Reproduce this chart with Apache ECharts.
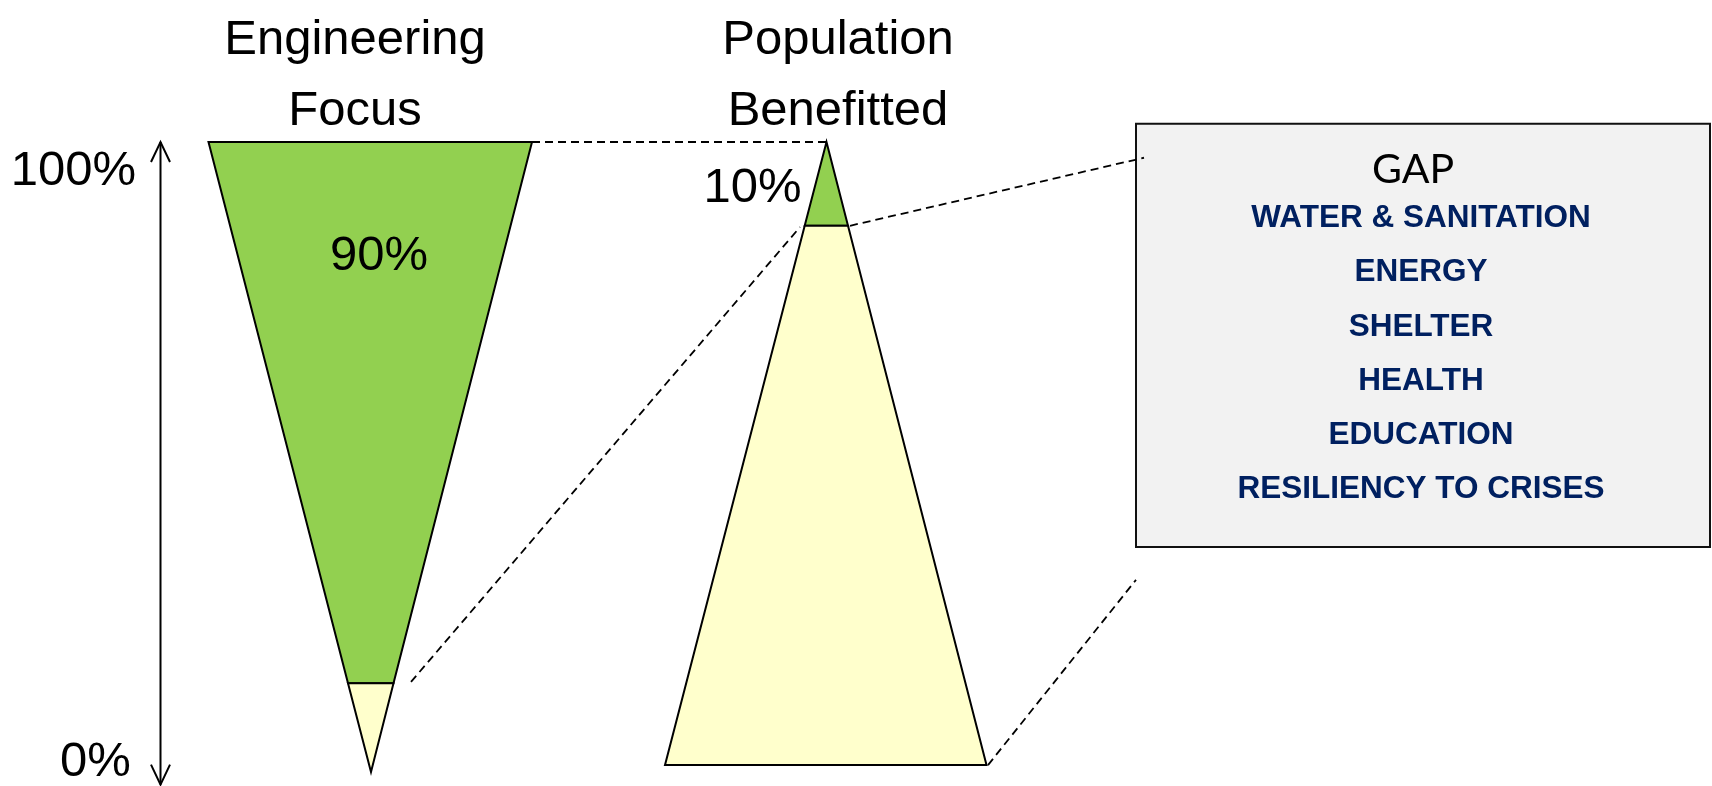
<!DOCTYPE html>
<html><head><meta charset="utf-8">
<script src="https://cdn.jsdelivr.net/npm/echarts@6/dist/echarts.min.js"></script>
<style>html,body{margin:0;padding:0;background:#fff}#c{width:1712px;height:786px}</style>
</head><body><div id="c"></div>
<script>
// ---- data (x: horizontal diagram units, y: percent of the 0%-100% scale) ----
const funnelTitles = ['Engineering\nFocus', 'Population\nBenefitted'];
const shareLabels = ['90%', '10%'];
const scaleLabels = ['100%', '0%'];
const gapTitle = 'GAP';
const gapItems = ['WATER & SANITATION', 'ENERGY', 'SHELTER', 'HEALTH', 'EDUCATION', 'RESILIENCY TO CRISES'];

// shape vertices
const engineeringGreen = [[208.5, 100], [532, 100], [393.5, 14.1], [348, 14.1]];
const engineeringYellow = [[348, 14.1], [393.5, 14.1], [371, 0]];
const populationGreen = [[826.5, 100], [848, 86.7], [804.7, 86.7]];
const populationYellow = [[804.7, 86.7], [848, 86.7], [986.5, 1.1], [665, 1.1]];
const connectors = [
  [[532, 100], [826.5, 100]],
  [[411, 14.3], [800, 86.5]],
  [[850, 86.7], [1144, 97.5]],
  [[988, 1.1], [1136, 30.5]]
];
const scaleArrow = [[160.5, 100], [160.5, -2.0]];
const gapBox = [[1136, 102.9], [1710, 35.7]];

// ---- layout / style ----
const GREEN = '#92D050', YELLOW = '#FFFFCC', NAVY = '#002060';
const shapes = [engineeringGreen, engineeringYellow, populationGreen, populationYellow];
const shapeFill = [GREEN, YELLOW, GREEN, YELLOW];
const titlePos = [[355, 110.5], [838, 110.5]];
const sharePos = [[379, 81.85], [752.5, 92.7]];
const scaleLabelPos = [[73.5, 95.35], [95.5, 1.55]];
const gapTitlePos = [1413, 95.65];
const gapItemX = 1421;
const gapItemY = [87.9, 79.33, 70.6, 62.03, 53.46, 44.89];

const chart = echarts.init(document.getElementById('c'), null, {renderer: 'canvas'});

function idx(arr) { return arr.map((_, i) => [i, i]); }

const texts = [];
funnelTitles.forEach((t, i) => texts.push({t, p: titlePos[i], size: 49, font: 'Liberation Sans, Arial', weight: 'normal', color: '#000', lh: 71}));
shareLabels.forEach((t, i) => texts.push({t, p: sharePos[i], size: 49, font: 'Liberation Sans, Arial', weight: 'normal', color: '#000'}));
scaleLabels.forEach((t, i) => texts.push({t, p: scaleLabelPos[i], size: 49, font: 'Liberation Sans, Arial', weight: 'normal', color: '#000'}));
texts.push({t: gapTitle, p: gapTitlePos, size: 41, font: 'Lato, Liberation Sans', weight: 'normal', color: '#000'});
gapItems.forEach((t, i) => texts.push({t, p: [gapItemX, gapItemY[i]], size: 31.5, font: 'Liberation Sans, Arial', weight: 'bold', color: NAVY}));

const option = {
  animation: false,
  grid: {left: 0, right: 0, top: 0, bottom: 0},
  xAxis: {type: 'value', min: 0, max: 1712, show: false},
  yAxis: {type: 'value', min: -2.2222, max: 122.5397, show: false},
  series: [
    { // gap box
      type: 'custom', silent: true, z: 1, data: [[0, 0]],
      renderItem: (params, api) => {
        const a = api.coord(gapBox[0]), b = api.coord(gapBox[1]);
        return {type: 'rect', shape: {x: a[0], y: a[1], width: b[0] - a[0], height: b[1] - a[1]},
          style: {fill: '#F2F2F2', stroke: '#111', lineWidth: 2}};
      }
    },
    { // funnel shapes
      type: 'custom', silent: true, z: 2, data: idx(shapes),
      renderItem: (params, api) => {
        const pts = shapes[params.dataIndex].map(p => api.coord(p));
        return {type: 'polygon', shape: {points: pts},
          style: {fill: shapeFill[params.dataIndex], stroke: '#000', lineWidth: 2, lineJoin: 'miter'}};
      }
    },
    { // dashed connectors
      type: 'custom', silent: true, z: 3, data: idx(connectors),
      renderItem: (params, api) => {
        const pts = connectors[params.dataIndex].map(p => api.coord(p));
        return {type: 'polyline', shape: {points: pts},
          style: {fill: null, stroke: '#000', lineWidth: 1.8, lineDash: [8, 5]}};
      }
    },
    { // scale arrow
      type: 'custom', silent: true, z: 3, data: [[0, 0]],
      renderItem: (params, api) => {
        const t = api.coord(scaleArrow[0]), b = api.coord(scaleArrow[1]);
        const st = {fill: null, stroke: '#000', lineWidth: 2};
        return {type: 'group', children: [
          {type: 'polyline', shape: {points: [t, b]}, style: st},
          {type: 'polyline', shape: {points: [[t[0] - 9.5, t[1] + 20], t, [t[0] + 9.5, t[1] + 20]]}, style: st},
          {type: 'polyline', shape: {points: [[b[0] - 9.5, b[1] - 20], b, [b[0] + 9.5, b[1] - 20]]}, style: st}
        ]};
      }
    },
    { // texts
      type: 'custom', silent: true, z: 4, data: idx(texts),
      renderItem: (params, api) => {
        const d = texts[params.dataIndex];
        const p = api.coord(d.p);
        return {type: 'text', x: p[0], y: p[1],
          style: {text: d.t, fill: d.color, fontSize: d.size, fontFamily: d.font, fontWeight: d.weight,
            align: 'center', verticalAlign: 'middle', lineHeight: d.lh || d.size * 1.2}};
      }
    }
  ]
};
chart.setOption(option);
</script></body></html>
